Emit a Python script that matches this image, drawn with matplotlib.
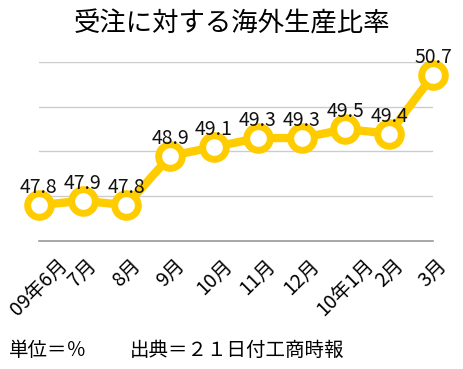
import matplotlib
matplotlib.use("Agg")
import matplotlib.pyplot as plt

plt.rcParams['font.family'] = ['Noto Sans CJK JP', 'DejaVu Sans']

months = ['09年6月', '7月', '8月', '9月', '10月', '11月', '12月', '10年1月', '2月', '3月']
ratio = [47.8, 47.9, 47.8, 48.9, 49.1, 49.3, 49.3, 49.5, 49.4, 50.7]

fig = plt.figure(figsize=(4.63, 3.69), dpi=100)
ax = fig.add_axes([0.084, 0.347, 0.851, 0.485])

x = list(range(len(months)))
ax.plot(x, ratio, color='#FFCC00', lw=6, marker='o', ms=17,
        mfc='white', mec='#FFCC00', mew=5, zorder=3, clip_on=False)

# value labels above each point
for xi, v in zip(x, ratio):
    ax.annotate(f'{v:.1f}', (xi, v), xytext=(0, 5), textcoords='offset points',
                ha='center', va='bottom', fontsize=14, color='#111111', zorder=4)

ax.set_xlim(0, len(months) - 1)
ax.set_ylim(47, 51)
ax.set_yticks([47, 48, 49, 50, 51])
ax.set_yticklabels([])
ax.tick_params(axis='y', length=0)
ax.grid(axis='y', color='#cccccc', lw=1)
ax.set_axisbelow(True)
for s in ['top', 'right', 'left']:
    ax.spines[s].set_visible(False)
ax.spines['bottom'].set_color('#999999')
ax.spines['bottom'].set_linewidth(1.2)

ax.set_xticks(x)
ax.set_xticklabels(months, rotation=45, ha='center', va='top', fontsize=14)
ax.tick_params(axis='x', length=0, pad=10)

fig.text(0.5, 0.935, '受注に対する海外生産比率', ha='center', va='center', fontsize=19)
fig.text(0.02, 0.051, '単位＝％', ha='left', va='center', fontsize=14)
fig.text(0.28, 0.051, '出典＝２１日付工商時報', ha='left', va='center', fontsize=14)

fig.savefig('out.png', dpi=100)
